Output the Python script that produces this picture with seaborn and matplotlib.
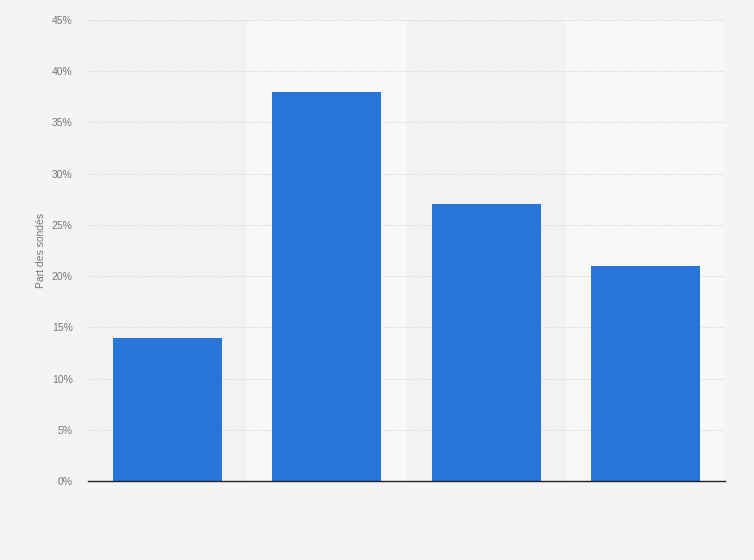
import matplotlib
matplotlib.use("Agg")
import matplotlib.pyplot as plt
import seaborn as sns
import pandas as pd

# values (no category labels shown)
categories = ["A", "B", "C", "D"]
shares = [14, 38, 27, 21]
yticks = [0, 5, 10, 15, 20, 25, 30, 35, 40, 45]
ytick_labels = [f"{t}%" for t in yticks]

df = pd.DataFrame({"cat": categories, "share": shares})

sns.set_style("white")
plt.rcParams["font.family"] = ["Liberation Sans", "DejaVu Sans"]
fig = plt.figure(figsize=(7.54, 5.6), dpi=100)
fig.patch.set_facecolor("#f4f4f4")
ax = fig.add_axes([88 / 754, 1 - 481 / 560, (725 - 88) / 754, (481 - 20) / 560])
ax.set_facecolor("#f2f2f2")

# alternating column bands
for i in range(len(categories)):
    if i % 2 == 1:
        ax.axvspan(i - 0.5, i + 0.5, color="#f8f8f8", zorder=0, lw=0)

sns.barplot(data=df, x="cat", y="share", color="#2775db", saturation=1,
            width=0.685, ax=ax, zorder=3, edgecolor="none", linewidth=0)

ax.set_xlim(-0.5, len(categories) - 0.5)
ax.set_ylim(0, 45)
ax.set_yticks(yticks)
ax.set_yticklabels(ytick_labels, fontsize=7.5, color="#777777")
ax.set_xticks([])
ax.set_xlabel("")
ax.set_ylabel("Part des sondés", fontsize=7.5, color="#777777", labelpad=4.5)
ax.yaxis.grid(True, linestyle=(0, (1, 1)), color="#dadada", lw=0.8, zorder=1)
ax.tick_params(axis="y", length=0, pad=11)
for side in ["top", "right", "left"]:
    ax.spines[side].set_visible(False)
ax.spines["bottom"].set_color("#222222")
ax.spines["bottom"].set_linewidth(1.0)
ax.spines["bottom"].set_zorder(5)

fig.savefig("out.png", dpi=100, facecolor=fig.get_facecolor())
